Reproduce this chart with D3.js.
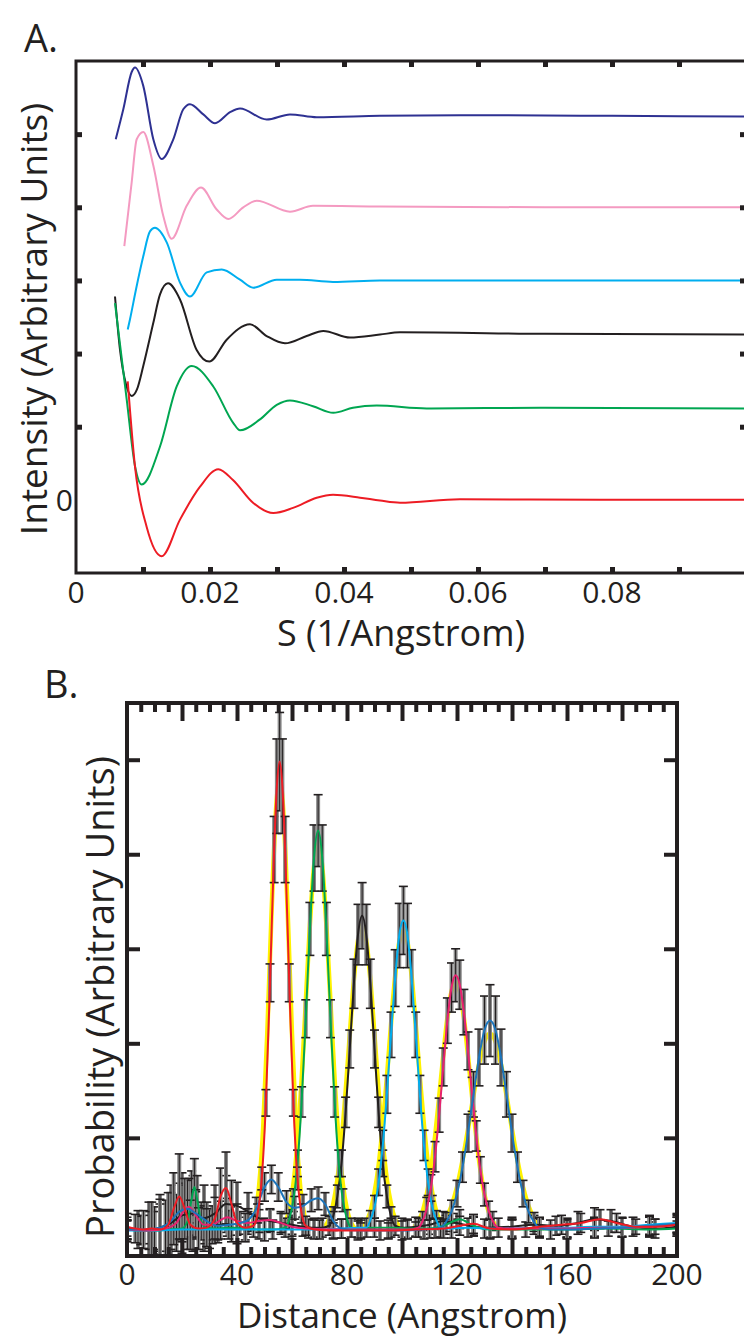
<!DOCTYPE html>
<html>
<head>
    <meta charset="utf-8">
    <title>Scattering curves and distance distributions</title>
    <script src="https://cdnjs.cloudflare.com/ajax/libs/d3/7.8.5/d3.min.js"></script>
    <style>
        html, body {
            margin: 0;
            padding: 0;
            background: #fff;
        }
        svg {
            display: block;
            font-family: "Open Sans", "Noto Sans", sans-serif;
            fill: #231f20;
        }
    </style>
</head>
<body>
<div id="chart"></div>
<script>
    // ---------- Panel A: intensity vs S, curves offset vertically ----------
    // [S (1/Angstrom), intensity in offset units]
    const curveNavy = [[0.00593,4.93],[0.00706,5.34],[0.00831,5.85],[0.00881,5.91],[0.01004,5.66],[0.01154,4.93],[0.01279,4.66],[0.01452,4.93],[0.01601,5.34],[0.01701,5.41],[0.01900,5.27],[0.02075,5.15],[0.02299,5.30],[0.02448,5.35],[0.02846,5.20],[0.03194,5.27],[0.03593,5.23],[0.04537,5.25],[0.06,5.26],[0.08,5.25],[0.1,5.24]];
    const curvePink = [[0.00721,3.47],[0.00831,4.34],[0.00906,4.93],[0.01004,5.03],[0.01154,4.57],[0.01303,3.88],[0.01428,3.57],[0.01652,4.02],[0.01866,4.27],[0.02100,3.97],[0.02273,3.84],[0.02497,4.00],[0.02697,4.09],[0.03194,3.94],[0.03537,4.02],[0.04537,4.01],[0.07,4.0],[0.1,4.0]];
    const curveCyan = [[0.00772,2.33],[0.00806,2.47],[0.00896,2.88],[0.01004,3.33],[0.01104,3.67],[0.01179,3.72],[0.01354,3.52],[0.01552,2.97],[0.01701,2.78],[0.01951,3.11],[0.02175,3.15],[0.02448,3.01],[0.02646,2.90],[0.02996,3.01],[0.03343,3.01],[0.03836,2.98],[0.04537,3.0],[0.07,3.0],[0.1,3.0]];
    const curveBlack = [[0.00582,2.78],[0.00657,2.05],[0.00746,1.58],[0.00831,1.42],[0.0091,1.51],[0.01004,1.83],[0.01154,2.42],[0.01254,2.81],[0.01373,2.96],[0.01552,2.74],[0.01801,2.05],[0.01990,1.89],[0.02249,2.19],[0.02597,2.40],[0.02846,2.24],[0.03119,2.14],[0.03443,2.24],[0.03691,2.31],[0.04090,2.22],[0.04537,2.26],[0.04836,2.29],[0.07,2.27],[0.1,2.26]];
    const curveGreen = [[0.00582,2.69],[0.00757,1.37],[0.00881,0.46],[0.00981,0.21],[0.01254,0.73],[0.01503,1.55],[0.01727,1.83],[0.02049,1.55],[0.02348,1.05],[0.02448,0.95],[0.02746,1.10],[0.02996,1.30],[0.03194,1.36],[0.03537,1.28],[0.03840,1.19],[0.04134,1.26],[0.04488,1.29],[0.05234,1.25],[0.07,1.26],[0.1,1.25]];
    const curveRed = [[0.00772,1.62],[0.00881,0.45],[0.01055,-0.37],[0.01279,-0.77],[0.01552,-0.27],[0.01851,0.18],[0.02124,0.42],[0.02343,0.27],[0.02642,-0.04],[0.02945,-0.18],[0.03239,-0.11],[0.03593,0.03],[0.03836,0.07],[0.04239,0.03],[0.04537,-0.01],[0.04836,-0.04],[0.05731,0.01],[0.0782,0.0],[0.1,0.0]];

    const sMinorTicks = [0.01, 0.02, 0.03, 0.04, 0.05, 0.06, 0.07, 0.08, 0.09];
    const sTickLabels = ["0", "0.02", "0.04", "0.06", "0.08"];
    const intensityTicks = [1, 2, 3, 4, 5];
    const intensityLabels = ["0"];

    // ---------- Panel B: distance distributions ----------
    // [distance (Angstrom), probability, error]
    const distRed = [[0,0.06,0.1],[3,0.04,0.15],[6,0.03,0.2],[9,0.04,0.28],[12,0.03,0.32],[15,0.08,0.34],[17,0.25,0.38],[19,0.38,0.45],[21,0.25,0.32],[23,0.08,0.26],[26,0.04,0.22],[29,0.05,0.2],[32,0.15,0.22],[34,0.38,0.3],[36,0.47,0.38],[38,0.3,0.25],[40,0.1,0.2],[43,0.05,0.15],[46,0.07,0.12],[47.5,0.2,0.1],[49,0.57,0.12],[50.5,1.37,0.14],[52,2.64,0.2],[53.5,4.05,0.35],[54.5,4.72,0.5],[55.5,4.98,0.52],[56.5,4.72,0.5],[57.5,4.05,0.35],[59,2.64,0.2],[60.5,1.37,0.14],[62,0.57,0.12],[63.5,0.2,0.1],[65,0.07,0.1],[68,0.03,0.1],[75,0.02,0.08],[85,0.02,0.08],[95,0.02,0.08],[105,0.03,0.08],[115,0.04,0.1],[121,0.07,0.1],[126,0.09,0.1],[132,0.04,0.1],[140,0.03,0.1],[150,0.06,0.1],[158,0.08,0.1],[165,0.1,0.1],[172,0.14,0.1],[178,0.1,0.1],[185,0.06,0.08],[192,0.06,0.08],[200,0.08,0.08]];
    const distGreen = [[0,0.03,0.1],[5,0.02,0.15],[10,0.02,0.25],[15,0.03,0.3],[20,0.04,0.3],[22,0.12,0.3],[23.5,0.35,0.3],[24.5,0.48,0.3],[25.5,0.35,0.25],[27,0.12,0.2],[29,0.05,0.2],[33,0.04,0.15],[38,0.05,0.15],[43,0.04,0.12],[48,0.03,0.1],[53,0.03,0.1],[57.5,0.05,0.1],[59,0.14,0.1],[60.5,0.34,0.12],[62,0.73,0.14],[63.5,1.38,0.16],[65,2.26,0.2],[66.5,3.21,0.28],[68,3.96,0.35],[69.5,4.25,0.38],[71,3.96,0.35],[72.5,3.21,0.28],[74,2.26,0.2],[75.5,1.38,0.16],[77,0.73,0.14],[78.5,0.34,0.12],[80,0.14,0.1],[81.5,0.05,0.1],[84,0.04,0.1],[90,0.05,0.1],[96,0.05,0.1],[102,0.04,0.1],[110,0.04,0.1],[116,0.08,0.1],[121,0.14,0.1],[126,0.07,0.1],[132,0.03,0.1],[145,0.03,0.08],[160,0.03,0.08],[175,0.04,0.08],[190,0.03,0.08],[200,0.04,0.08]];
    const distBlack = [[0,0.05,0.15],[4,0.03,0.2],[8,0.02,0.3],[12,0.05,0.35],[16,0.1,0.4],[20,0.18,0.45],[24,0.2,0.4],[28,0.15,0.35],[32,0.2,0.3],[36,0.3,0.3],[40,0.28,0.25],[44,0.22,0.2],[48,0.15,0.15],[52,0.12,0.12],[56,0.1,0.12],[60,0.08,0.1],[64,0.06,0.1],[68,0.05,0.1],[71,0.05,0.1],[73.5,0.07,0.1],[75,0.17,0.1],[76.5,0.38,0.12],[78,0.73,0.14],[79.5,1.27,0.16],[81,1.94,0.2],[82.5,2.63,0.26],[84,3.15,0.32],[85.5,3.35,0.35],[87,3.15,0.32],[88.5,2.63,0.26],[90,1.94,0.2],[91.5,1.27,0.16],[93,0.73,0.14],[94.5,0.38,0.12],[96,0.17,0.1],[97.5,0.07,0.1],[100,0.05,0.1],[105,0.06,0.1],[110,0.08,0.1],[115,0.12,0.1],[120,0.1,0.1],[126,0.06,0.1],[132,0.05,0.1],[140,0.06,0.1],[148,0.08,0.1],[156,0.07,0.1],[164,0.1,0.12],[170,0.14,0.12],[176,0.12,0.12],[184,0.06,0.1],[192,0.04,0.1],[200,0.06,0.1]];
    const distCyan = [[0,0.02,0.1],[10,0.02,0.2],[20,0.03,0.25],[30,0.03,0.2],[40,0.03,0.15],[50,0.03,0.12],[60,0.03,0.1],[70,0.03,0.1],[78,0.04,0.1],[84,0.05,0.1],[87,0.05,0.1],[88.5,0.13,0.1],[90,0.27,0.12],[91.5,0.53,0.14],[93,0.92,0.16],[94.5,1.46,0.2],[96,2.09,0.24],[97.5,2.69,0.3],[99,3.14,0.34],[100.5,3.3,0.36],[102,3.14,0.34],[103.5,2.69,0.3],[105,2.09,0.24],[106.5,1.46,0.2],[108,0.92,0.16],[109.5,0.53,0.14],[111,0.27,0.12],[112.5,0.13,0.1],[114,0.05,0.1],[118,0.04,0.1],[124,0.05,0.1],[130,0.04,0.1],[140,0.04,0.1],[150,0.05,0.1],[160,0.05,0.1],[170,0.06,0.1],[180,0.06,0.1],[190,0.08,0.1],[200,0.1,0.1]];
    const distMagenta = [[0,0.03,0.1],[8,0.02,0.2],[14,0.04,0.3],[18,0.1,0.3],[20,0.2,0.3],[22.5,0.27,0.3],[25,0.18,0.25],[28,0.08,0.2],[31,0.08,0.2],[34,0.13,0.2],[36.5,0.16,0.2],[40,0.12,0.15],[44,0.1,0.12],[48,0.12,0.12],[52,0.13,0.12],[56,0.1,0.1],[60,0.06,0.1],[66,0.04,0.1],[75,0.03,0.1],[85,0.03,0.1],[95,0.03,0.1],[102,0.03,0.1],[106,0.05,0.1],[107.5,0.12,0.1],[109,0.25,0.12],[110.5,0.47,0.14],[112,0.8,0.16],[113.5,1.24,0.18],[115,1.75,0.2],[116.5,2.24,0.24],[118,2.59,0.26],[119.5,2.72,0.28],[121,2.62,0.26],[122.5,2.33,0.24],[124,1.92,0.2],[125.5,1.46,0.18],[127,1.02,0.16],[128.5,0.66,0.14],[130,0.4,0.12],[131.5,0.23,0.1],[133,0.12,0.1],[135,0.05,0.1],[140,0.04,0.1],[150,0.04,0.1],[160,0.04,0.1],[170,0.05,0.1],[180,0.05,0.1],[190,0.06,0.1],[200,0.08,0.1]];
    const distBlue = [[0,0.03,0.1],[6,0.03,0.15],[12,0.05,0.25],[16,0.12,0.3],[19,0.22,0.3],[22,0.25,0.3],[25,0.2,0.25],[29,0.12,0.2],[33,0.07,0.15],[37,0.08,0.15],[41,0.1,0.12],[44,0.13,0.12],[47,0.25,0.12],[50,0.48,0.15],[52.5,0.56,0.15],[55,0.48,0.15],[58,0.32,0.12],[61,0.26,0.12],[64,0.28,0.12],[67,0.34,0.12],[69.5,0.36,0.12],[72,0.3,0.12],[75,0.12,0.1],[78,0.04,0.1],[84,0.02,0.1],[92,0.02,0.1],[100,0.02,0.1],[108,0.03,0.1],[112,0.04,0.1],[114,0.05,0.1],[116,0.11,0.1],[118,0.22,0.12],[120,0.41,0.14],[122,0.69,0.16],[124,1.05,0.2],[126,1.46,0.24],[128,1.85,0.3],[130,2.14,0.36],[132,2.24,0.38],[134,2.14,0.36],[136,1.85,0.3],[138,1.46,0.24],[140,1.05,0.2],[142,0.69,0.16],[144,0.41,0.14],[146,0.22,0.12],[148,0.11,0.1],[150,0.05,0.1],[154,0.03,0.1],[160,0.03,0.1],[170,0.04,0.1],[180,0.05,0.1],[190,0.07,0.1],[200,0.09,0.1]];

    // second (yellow) fits under the main peaks: [distance, probability]
    const yellowRed = [[45,0.05],[46.5,0.18],[48,0.48],[49.5,1.1],[51,2.1],[52.5,3.33],[54,4.38],[55.5,4.8],[57,4.38],[58.5,3.33],[60,2.1],[61.5,1.1],[63,0.48],[64.5,0.18],[66,0.05]];
    const yellowGreen = [[56,0.04],[57.5,0.1],[59,0.24],[60.5,0.51],[62,0.96],[63.5,1.62],[65,2.43],[66.5,3.25],[68,3.87],[69.5,4.1],[71,3.87],[72.5,3.25],[74,2.43],[75.5,1.62],[77,0.96],[78.5,0.51],[80,0.24],[81.5,0.1],[83,0.04]];
    const yellowBlack = [[72,0.06],[73.5,0.14],[75,0.3],[76.5,0.56],[78,0.96],[79.5,1.49],[81,2.09],[82.5,2.67],[84,3.09],[85.5,3.25],[87,3.09],[88.5,2.67],[90,2.09],[91.5,1.49],[93,0.96],[94.5,0.56],[96,0.3],[97.5,0.14],[99,0.06]];
    const yellowCyan = [[85.5,0.05],[87,0.11],[88.5,0.22],[90,0.42],[91.5,0.71],[93,1.13],[94.5,1.64],[96,2.2],[97.5,2.71],[99,3.07],[100.5,3.2],[102,3.07],[103.5,2.71],[105,2.2],[106.5,1.64],[108,1.13],[109.5,0.71],[111,0.42],[112.5,0.22],[114,0.11],[115.5,0.05]];
    const yellowMagenta = [[104.5,0.06],[106,0.12],[107.5,0.22],[109,0.4],[110.5,0.66],[112,1.01],[113.5,1.43],[115,1.87],[116.5,2.27],[118,2.55],[119.5,2.65],[121,2.55],[122.5,2.27],[124,1.87],[125.5,1.43],[127,1.01],[128.5,0.66],[130,0.4],[131.5,0.22],[133,0.12],[134.5,0.06]];
    const yellowBlue = [[112,0.04],[114,0.08],[116,0.15],[118,0.28],[120,0.48],[122,0.76],[124,1.09],[126,1.45],[128,1.78],[130,2.02],[132,2.1],[134,2.02],[136,1.78],[138,1.45],[140,1.09],[142,0.76],[144,0.48],[146,0.28],[148,0.15],[150,0.08],[152,0.04]];

    const distTickLabels = ["0", "40", "80", "120", "160", "200"];
    const probTicks = [1, 2, 3, 4, 5];

    const W = 744, H = 1340;

    const svg = d3.select("#chart")
        .append("svg")
        .attr("width", W)
        .attr("height", H);

    /* ---------------- Panel A ---------------- */

    const xA = d3.scaleLinear().domain([0, 0.1]).range([76, 746]);
    const yA = d3.scaleLinear().domain([-1, 6]).range([573, 61]);

    const gA = svg.append("g");

    const seriesA = [
        {pts: curveNavy, color: "#2e3192"},
        {pts: curvePink, color: "#f49ac1"},
        {pts: curveCyan, color: "#00aeef"},
        {pts: curveBlack, color: "#231f20"},
        {pts: curveGreen, color: "#00a651"},
        {pts: curveRed, color: "#ed1c24"}
    ];

    const lineA = d3.line()
        .x(d => xA(d[0]))
        .y(d => yA(d[1]))
        .curve(d3.curveMonotoneX);

    gA.selectAll("path.curve")
        .data(seriesA)
        .join("path")
        .attr("class", "curve")
        .attr("d", d => lineA(d.pts))
        .attr("fill", "none")
        .attr("stroke", d => d.color)
        .attr("stroke-width", 2)
        .attr("stroke-linejoin", "round");

    // inward ticks on all four sides
    function tickStyle(g, w) {
        g.select(".domain").remove();
        g.selectAll(".tick line").attr("stroke", "#231f20").attr("stroke-width", w);
    }

    gA.append("g")
        .attr("transform", `translate(0,${yA(-1)})`)
        .call(d3.axisBottom(xA).tickValues(sMinorTicks).tickSize(-6).tickSizeOuter(0).tickFormat(""))
        .call(g => tickStyle(g, 5));
    gA.append("g")
        .attr("transform", `translate(0,${yA(6)})`)
        .call(d3.axisTop(xA).tickValues(sMinorTicks).tickSize(-6).tickSizeOuter(0).tickFormat(""))
        .call(g => tickStyle(g, 5));
    gA.append("g")
        .attr("transform", `translate(${xA(0)},0)`)
        .call(d3.axisLeft(yA).tickValues(intensityTicks).tickSize(-6).tickSizeOuter(0).tickFormat(""))
        .call(g => tickStyle(g, 5));
    gA.append("g")
        .attr("transform", `translate(${xA(0.1)},0)`)
        .call(d3.axisRight(yA).tickValues(intensityTicks).tickSize(-6).tickSizeOuter(0).tickFormat(""))
        .call(g => tickStyle(g, 5));

    gA.append("rect")
        .attr("x", xA(0))
        .attr("y", yA(6))
        .attr("width", xA(0.1) - xA(0))
        .attr("height", yA(-1) - yA(6))
        .attr("fill", "none")
        .attr("stroke", "#231f20")
        .attr("stroke-width", 3);

    gA.selectAll("text.xlab")
        .data(sTickLabels)
        .join("text")
        .attr("class", "xlab")
        .attr("x", d => xA(+d))
        .attr("y", 603)
        .attr("text-anchor", "middle")
        .attr("font-size", 30)
        .text(d => d);

    gA.selectAll("text.ylab")
        .data(intensityLabels)
        .join("text")
        .attr("class", "ylab")
        .attr("x", 73)
        .attr("y", yA(0) + 11)
        .attr("text-anchor", "end")
        .attr("font-size", 30)
        .text(d => d);

    gA.append("text")
        .attr("x", 401)
        .attr("y", 646)
        .attr("text-anchor", "middle")
        .attr("font-size", 36)
        .text("S (1/Angstrom)");

    gA.append("text")
        .attr("transform", "translate(47,319) rotate(-90)")
        .attr("text-anchor", "middle")
        .attr("font-size", 37)
        .text("Intensity (Arbitrary Units)");

    gA.append("text")
        .attr("x", 24)
        .attr("y", 52)
        .attr("font-size", 38)
        .text("A.");

    /* ---------------- Panel B ---------------- */

    const xB = d3.scaleLinear().domain([0, 200]).range([127, 677]);
    const yB = d3.scaleLinear().domain([-0.25, 5.6]).range([1256, 703]);

    const gB = svg.append("g");

    gB.append("clipPath")
        .attr("id", "clipB")
        .append("rect")
        .attr("x", xB(0))
        .attr("y", yB(5.6))
        .attr("width", xB(200) - xB(0))
        .attr("height", yB(-0.25) - yB(5.6));

    const plotB = gB.append("g").attr("clip-path", "url(#clipB)");

    const seriesB = [
        {pts: distBlack, fit: yellowBlack, color: "#231f20"},
        {pts: distGreen, fit: yellowGreen, color: "#00a651"},
        {pts: distCyan, fit: yellowCyan, color: "#00aeef"},
        {pts: distMagenta, fit: yellowMagenta, color: "#e8216f"},
        {pts: distBlue, fit: yellowBlue, color: "#1c75bc"},
        {pts: distRed, fit: yellowRed, color: "#ed1c24"}
    ];

    const lineB = d3.line()
        .x(d => xB(d[0]))
        .y(d => yB(d[1]))
        .curve(d3.curveMonotoneX);

    // yellow fits underneath
    plotB.selectAll("path.yfit")
        .data(seriesB)
        .join("path")
        .attr("class", "yfit")
        .attr("d", d => lineB(d.fit))
        .attr("fill", "none")
        .attr("stroke", "#fff200")
        .attr("stroke-width", 4.5);

    // error bars
    const bars = plotB.selectAll("g.bars")
        .data(seriesB)
        .join("g")
        .attr("class", "bars")
        .selectAll("g")
        .data(d => d.pts)
        .join("g");

    bars.append("line")
        .attr("x1", d => xB(d[0])).attr("x2", d => xB(d[0]))
        .attr("y1", d => yB(d[1] - d[2])).attr("y2", d => yB(d[1] + d[2]))
        .attr("stroke", "#8a8a8a")
        .attr("stroke-width", 4);
    bars.append("line")
        .attr("x1", d => xB(d[0])).attr("x2", d => xB(d[0]))
        .attr("y1", d => yB(d[1] - d[2])).attr("y2", d => yB(d[1] + d[2]))
        .attr("stroke", "#231f20")
        .attr("stroke-width", 1);
    bars.selectAll("line.cap")
        .data(d => [[d[0], d[1] - d[2]], [d[0], d[1] + d[2]]])
        .join("line")
        .attr("class", "cap")
        .attr("x1", d => xB(d[0]) - 4.5).attr("x2", d => xB(d[0]) + 4.5)
        .attr("y1", d => yB(d[1])).attr("y2", d => yB(d[1]))
        .attr("stroke", "#231f20")
        .attr("stroke-width", 1.6);

    // coloured fits on top
    plotB.selectAll("path.fit")
        .data(seriesB)
        .join("path")
        .attr("class", "fit")
        .attr("d", d => lineB(d.pts))
        .attr("fill", "none")
        .attr("stroke", d => d.color)
        .attr("stroke-width", 2);

    const minorD = d3.range(5, 200, 5).filter(v => v % 20 !== 0);
    const majorD = d3.range(20, 200, 20);

    gB.append("g")
        .attr("transform", `translate(0,${yB(-0.25)})`)
        .call(d3.axisBottom(xB).tickValues(minorD).tickSize(-9).tickSizeOuter(0).tickFormat(""))
        .call(g => tickStyle(g, 4));
    gB.append("g")
        .attr("transform", `translate(0,${yB(-0.25)})`)
        .call(d3.axisBottom(xB).tickValues(majorD).tickSize(-18).tickSizeOuter(0).tickFormat(""))
        .call(g => tickStyle(g, 4));
    gB.append("g")
        .attr("transform", `translate(0,${yB(5.6)})`)
        .call(d3.axisTop(xB).tickValues(minorD).tickSize(-9).tickSizeOuter(0).tickFormat(""))
        .call(g => tickStyle(g, 4));
    gB.append("g")
        .attr("transform", `translate(0,${yB(5.6)})`)
        .call(d3.axisTop(xB).tickValues(majorD).tickSize(-18).tickSizeOuter(0).tickFormat(""))
        .call(g => tickStyle(g, 4));
    gB.append("g")
        .attr("transform", `translate(${xB(0)},0)`)
        .call(d3.axisLeft(yB).tickValues(probTicks).tickSize(-13).tickSizeOuter(0).tickFormat(""))
        .call(g => tickStyle(g, 4));
    gB.append("g")
        .attr("transform", `translate(${xB(200)},0)`)
        .call(d3.axisRight(yB).tickValues(probTicks).tickSize(-13).tickSizeOuter(0).tickFormat(""))
        .call(g => tickStyle(g, 4));

    gB.append("rect")
        .attr("x", xB(0))
        .attr("y", yB(5.6))
        .attr("width", xB(200) - xB(0))
        .attr("height", yB(-0.25) - yB(5.6))
        .attr("fill", "none")
        .attr("stroke", "#231f20")
        .attr("stroke-width", 4);

    gB.selectAll("text.xlab")
        .data(distTickLabels)
        .join("text")
        .attr("class", "xlab")
        .attr("x", d => xB(+d))
        .attr("y", 1285)
        .attr("text-anchor", "middle")
        .attr("font-size", 30)
        .text(d => d);

    gB.append("text")
        .attr("x", 402)
        .attr("y", 1328)
        .attr("text-anchor", "middle")
        .attr("font-size", 35)
        .text("Distance (Angstrom)");

    gB.append("text")
        .attr("transform", "translate(114,997) rotate(-90)")
        .attr("text-anchor", "middle")
        .attr("font-size", 38)
        .text("Probability (Arbitrary Units)");

    gB.append("text")
        .attr("x", 44)
        .attr("y", 698)
        .attr("font-size", 38)
        .text("B.");
</script>
</body>
</html>
